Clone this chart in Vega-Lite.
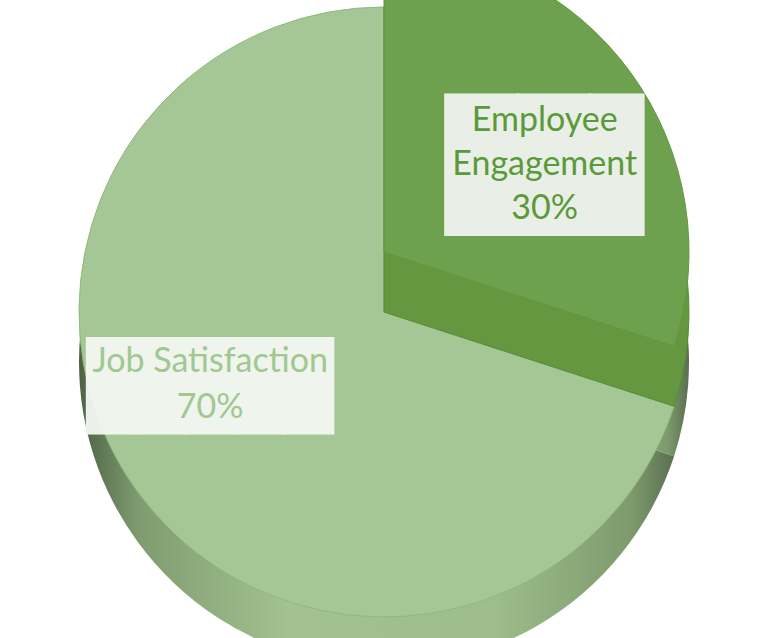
{
  "$schema": "https://vega.github.io/schema/vega-lite/v6.json",
  "width": 768,
  "height": 638,
  "padding": 0,
  "autosize": {"type": "none"},
  "background": "white",
  "config": {"view": {"stroke": null}},
  "data": {
    "values": [
      {"slice": "Employee Engagement", "value": 30},
      {"slice": "Job Satisfaction", "value": 70}
    ]
  },
  "transform": [
    {"calculate": "datum.slice + ' ' + datum.value + '%'", "as": "label_words"},
    {"calculate": "datum.slice + '\\n' + datum.value + '%'", "as": "label_lines"}
  ],
  "encoding": {
    "theta": {"field": "value", "type": "quantitative", "stack": true, "scale": {"domain": [0, 100]}},
    "detail": {"field": "slice", "type": "nominal"},
    "order": {"field": "slice", "type": "nominal", "sort": "ascending"}
  },
  "layer": [
    {
      "description": "outer side wall of the pie",
      "mark": {
        "type": "arc", "radius": 305, "yOffset": 43,
        "fill": {
          "gradient": "linear", "x1": 0, "y1": 0, "x2": 1, "y2": 0,
          "stops": [
            {"offset": 0, "color": "#4d6244"},
            {"offset": 0.1, "color": "#7f9c70"},
            {"offset": 0.35, "color": "#a2c290"},
            {"offset": 0.7, "color": "#9dbd8b"},
            {"offset": 0.93, "color": "#7d9a6c"},
            {"offset": 1, "color": "#5a6e50"}
          ]
        }
      }
    },
    {
      "description": "top face of the larger slice",
      "mark": {"type": "arc", "radius": 305, "yOffset": -7, "strokeWidth": 1},
      "encoding": {
        "fill": {"condition": {"test": "datum.slice === 'Job Satisfaction'", "value": "#a5c695"}, "value": "transparent"},
        "stroke": {"condition": {"test": "datum.slice === 'Job Satisfaction'", "value": "#8fbb7b"}, "value": "transparent"}
      }
    },
    {
      "description": "cut face and side of the raised slice",
      "mark": {"type": "arc", "radius": 305, "yOffset": -7, "strokeWidth": 1},
      "encoding": {
        "fill": {"condition": {"test": "datum.slice === 'Employee Engagement'", "value": "#64973f"}, "value": "transparent"},
        "stroke": {"condition": {"test": "datum.slice === 'Employee Engagement'", "value": "#5a8d38"}, "value": "transparent"}
      }
    },
    {
      "description": "top face of the raised slice",
      "mark": {"type": "arc", "radius": 305, "yOffset": -67, "strokeWidth": 1},
      "encoding": {
        "fill": {"condition": {"test": "datum.slice === 'Employee Engagement'", "value": "#6da14e"}, "value": "transparent"},
        "stroke": {"condition": {"test": "datum.slice === 'Employee Engagement'", "value": "#64983f"}, "value": "transparent"}
      }
    },
    {
      "description": "label panel, larger slice",
      "mark": {"type": "text", "radius": 200, "yOffset": -7, "dx": -12, "dy": -41, "font": "DejaVu Sans Mono", "fontSize": 82, "baseline": "middle", "align": "center", "opacity": 0.96, "fill": "#f3f6f1"},
      "encoding": {
        "text": {"condition": {"test": "datum.slice === 'Job Satisfaction'", "value": "█████"}, "value": ""}
      }
    },
    {
      "description": "label, larger slice",
      "mark": {"type": "text", "radius": 200, "yOffset": -7, "dx": -12, "dy": -68, "font": "Lato", "fontSize": 34, "lineHeight": 46, "lineBreak": "\n", "baseline": "middle", "align": "center", "fill": "#a0c890"},
      "encoding": {
        "text": {"condition": {"test": "datum.slice === 'Job Satisfaction'", "field": "label_lines"}, "value": ""}
      }
    },
    {
      "description": "label panel, raised slice",
      "mark": {"type": "text", "radius": 190, "yOffset": -67, "dx": 16, "dy": 30, "font": "DejaVu Sans Mono", "fontSize": 120, "baseline": "middle", "align": "center", "opacity": 0.96, "fill": "#eff3ed"},
      "encoding": {
        "text": {"condition": {"test": "datum.slice === 'Employee Engagement'", "value": "██▊"}, "value": ""}
      }
    },
    {
      "description": "label, raised slice",
      "mark": {"type": "text", "radius": 190, "yOffset": -67, "dx": 7, "dy": -19, "font": "Lato", "fontSize": 34, "lineHeight": 44, "lineBreak": " ", "baseline": "middle", "align": "center", "fill": "#5b9a3a"},
      "encoding": {
        "text": {"condition": {"test": "datum.slice === 'Employee Engagement'", "field": "label_words"}, "value": ""}
      }
    }
  ]
}
